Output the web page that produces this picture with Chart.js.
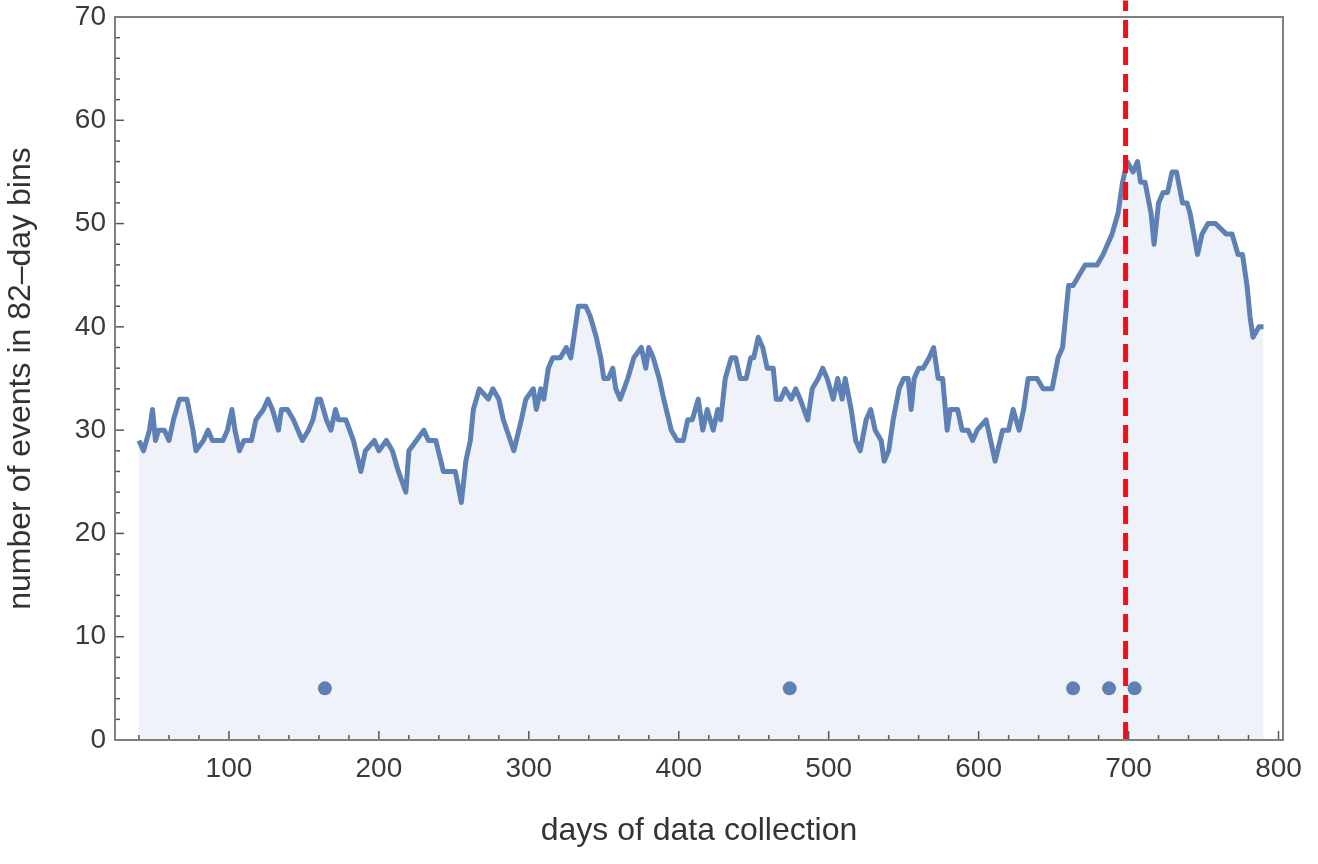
<!DOCTYPE html>
<html>
<head>
<meta charset="utf-8">
<script src="https://cdn.jsdelivr.net/npm/chart.js@4/dist/chart.umd.min.js"></script>
<style>
  html, body { margin: 0; padding: 0; background: #fff; }
  #wrap { width: 1318px; height: 864px; }
</style>
</head>
<body>
<div id="wrap"><canvas id="eventsChart"></canvas></div>
<script>
const days = [40, 43, 47, 49, 51, 53, 57, 60, 63, 67, 72, 76, 78, 83, 86, 89, 96, 99, 102, 104, 107, 110, 115, 118, 123, 126, 129, 133, 135, 139, 143, 146, 149, 153, 156, 159, 161, 165, 168, 171, 173, 178, 183, 188, 191, 197, 200, 205, 209, 213, 218, 220, 225, 230, 233, 238, 243, 248, 251, 255, 258, 261, 263, 267, 273, 276, 280, 283, 290, 295, 298, 303, 305, 308, 310, 313, 316, 321, 325, 328, 331, 333, 338, 341, 345, 348, 350, 353, 356, 358, 361, 366, 370, 375, 378, 380, 383, 387, 390, 395, 399, 403, 406, 409, 413, 416, 419, 423, 426, 428, 431, 435, 438, 441, 445, 448, 450, 453, 456, 459, 463, 465, 468, 471, 475, 478, 481, 486, 489, 493, 496, 499, 503, 506, 509, 511, 515, 518, 521, 525, 528, 531, 535, 537, 540, 543, 547, 550, 553, 555, 557, 560, 563, 567, 570, 573, 576, 579, 581, 586, 589, 593, 596, 599, 605, 608, 611, 616, 620, 623, 627, 630, 633, 639, 643, 649, 653, 656, 658, 660, 663, 667, 671, 676, 679, 683, 686, 689, 691, 693, 696, 699, 703, 706, 708, 711, 715, 717, 720, 723, 726, 729, 732, 736, 739, 741, 746, 749, 753, 758, 765, 769, 773, 776, 779, 781, 783, 787, 790]
const counts = [29, 28, 30, 32, 29, 30, 30, 29, 31, 33, 33, 30, 28, 29, 30, 29, 29, 30, 32, 30, 28, 29, 29, 31, 32, 33, 32, 30, 32, 32, 31, 30, 29, 30, 31, 33, 33, 31, 30, 32, 31, 31, 29, 26, 28, 29, 28, 29, 28, 26, 24, 28, 29, 30, 29, 29, 26, 26, 26, 23, 27, 29, 32, 34, 33, 34, 33, 31, 28, 31, 33, 34, 32, 34, 33, 36, 37, 37, 38, 37, 40, 42, 42, 41, 39, 37, 35, 35, 36, 34, 33, 35, 37, 38, 36, 38, 37, 35, 33, 30, 29, 29, 31, 31, 33, 30, 32, 30, 32, 31, 35, 37, 37, 35, 35, 37, 37, 39, 38, 36, 36, 33, 33, 34, 33, 34, 33, 31, 34, 35, 36, 35, 33, 35, 33, 35, 32, 29, 28, 31, 32, 30, 29, 27, 28, 31, 34, 35, 35, 32, 35, 36, 36, 37, 38, 35, 35, 30, 32, 32, 30, 30, 29, 30, 31, 29, 27, 30, 30, 32, 30, 32, 35, 35, 34, 34, 37, 38, 41, 44, 44, 45, 46, 46, 46, 47, 48, 49, 50, 51, 54, 56, 55, 56, 54, 54, 51, 48, 52, 53, 53, 55, 55, 52, 52, 51, 47, 49, 50, 50, 49, 49, 47, 47, 44, 41, 39, 40, 40]

const eventDays = [164, 474, 663, 687, 704]
const eventLevel = 5
const markerDay = 698
const markerRange = [0, 71.6]

const xTicks = [100, 200, 300, 400, 500, 600, 700, 800]
const yTicks = [0, 10, 20, 30, 40, 50, 60, 70]

const blue = '#5e81b5'
const tickFont = { family: 'Liberation Sans', size: 28 }
const titleFont = { family: 'Liberation Sans', size: 32 }

const frameTicks = {
    id: 'frameTicks',
    afterDatasetsDraw(chart) {
        const { ctx, chartArea: a, scales: { x, y } } = chart
        ctx.save()
        ctx.strokeStyle = '#555'
        ctx.lineWidth = 1.5
        for (let v = 0; v <= 70; v += 2) {
            const py = y.getPixelForValue(v)
            const len = v % 10 === 0 ? 9 : 5
            ctx.beginPath()
            ctx.moveTo(a.left, py)
            ctx.lineTo(a.left + len, py)
            ctx.stroke()
        }
        for (let v = 40; v <= 800; v += 20) {
            const px = x.getPixelForValue(v)
            const len = v % 100 === 0 ? 9 : 5
            ctx.beginPath()
            ctx.moveTo(px, a.bottom)
            ctx.lineTo(px, a.bottom - len)
            ctx.stroke()
        }
        ctx.strokeStyle = '#7f7f7f'
        ctx.lineWidth = 2
        ctx.strokeRect(a.left, a.top, a.right - a.left, a.bottom - a.top)
        ctx.restore()
    }
}

const renderEventsChart = () => {

    const data = {
        datasets: [{
            data: markerRange.map(v => ({ x: markerDay, y: v })),
            borderColor: '#e8141c',
            borderWidth: 5,
            borderDash: [18, 9],
            pointRadius: 0,
            clip: false,
            order: 0
        }, {
            data: eventDays.map(d => ({ x: d, y: eventLevel })),
            showLine: false,
            pointRadius: 7,
            pointBackgroundColor: blue,
            pointBorderWidth: 0,
            order: 1
        }, {
            data: days.map((d, i) => ({ x: d, y: counts[i] })),
            borderColor: blue,
            borderWidth: 5,
            backgroundColor: '#eff2f8',
            fill: 'origin',
            tension: 0,
            pointRadius: 0,
            borderJoinStyle: 'round',
            order: 2
        }]
    }

    const options = {
        responsive: true,
        maintainAspectRatio: false,
        animation: false,
        layout: { padding: { left: 0, top: 0, right: 35, bottom: 0 } },
        plugins: {
            legend: { display: false },
            tooltip: { enabled: false }
        },
        scales: {
            x: {
                type: 'linear',
                min: 24,
                max: 803,
                grid: { display: false, drawTicks: false },
                border: { display: false },
                afterBuildTicks: scale => { scale.ticks = xTicks.map(v => ({ value: v })) },
                afterFit: scale => { scale.height = 124 },
                ticks: { font: tickFont, color: '#3a3a3a', padding: 12, maxRotation: 0 },
                title: {
                    display: true,
                    text: 'days of data collection',
                    font: titleFont,
                    color: '#333',
                    padding: { top: 0, bottom: 14 }
                }
            },
            y: {
                min: 0,
                max: 70,
                grid: { display: false, drawTicks: false },
                border: { display: false },
                afterBuildTicks: scale => { scale.ticks = yTicks.map(v => ({ value: v })) },
                afterFit: scale => {
                    scale.width = 115
                    scale.paddingTop = 17
                },
                ticks: { font: tickFont, color: '#3a3a3a', padding: 9 },
                title: {
                    display: true,
                    text: 'number of events in 82–day bins',
                    font: titleFont,
                    color: '#333',
                    padding: { top: 2, bottom: 0 }
                }
            }
        }
    }

    new Chart('eventsChart', { type: 'line', data, options, plugins: [frameTicks] })
}

renderEventsChart()
</script>
</body>
</html>
